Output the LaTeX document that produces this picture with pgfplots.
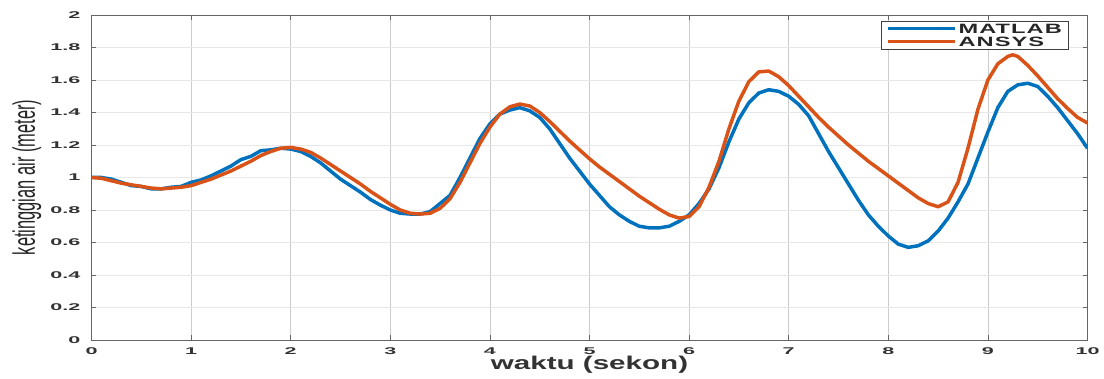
\documentclass[border=0pt]{standalone}
\usepackage{fontspec}
\setmainfont{Liberation Sans}
\newfontfamily\tickfont[FakeStretch=2.2]{Liberation Sans Bold}
\newfontfamily\labfont[FakeStretch=1.6]{Liberation Sans Bold}
\newfontfamily\legfont[FakeStretch=1.75, LetterSpace=8]{Liberation Sans Bold}
\newfontfamily\ylabfont[FakeStretch=0.53]{Liberation Sans}
\usepackage{pgfplots}
\pgfplotsset{compat=1.18}
\definecolor{mblue}{rgb}{0,0.447,0.741}
\definecolor{morange}{rgb}{0.85,0.325,0.098}
\begin{document}
\begin{tikzpicture}
\begin{axis}[
  scale only axis, width=996pt, height=325pt,
  xmin=0, xmax=10, ymin=0, ymax=2,
  xtick={0,1,...,10}, ytick={0,0.2,...,2.01},
  /pgf/number format/assume math mode=true,
  tick align=inside, major tick length=5pt,
  tick style={black!60, line width=0.8pt},
  axis line style={black!60, line width=0.8pt},
  grid=major,
  x grid style={black!20, line width=0.7pt},
  y grid style={black!9, line width=0.7pt},
  ticklabel style={font=\tickfont\fontsize{9.8}{10}\selectfont, text=black!80},
  xticklabel style={anchor=center, inner sep=0pt, yshift=-11pt},
  yticklabel style={anchor=east, inner sep=0pt, xshift=-11pt},
  xlabel={waktu (sekon)},
  xlabel style={font=\labfont\fontsize{18.5}{18.5}\selectfont, text=black!80, at={(axis description cs:0.5,-0.077)}, anchor=center},
  ylabel={ketinggian air (meter)},
  ylabel style={font=\ylabfont\fontsize{31}{31}\selectfont, text=black!85, at={(axis description cs:-0.0648,0.5)}, anchor=center},
  legend style={at={(axis description cs:0.9817,0.982)}, anchor=north east,
     draw=black!75, line width=0.8pt, inner xsep=5pt, inner ysep=1pt,
     font=\legfont\fontsize{13.5}{13.5}\selectfont, text=black!85,
     nodes={inner xsep=2pt, inner ysep=1pt, text height=10pt, text depth=1pt}, row sep=0pt},
  legend cell align=left,
  legend image code/.code={\draw[#1, line width=3pt] (0pt,0pt) -- (67pt,0pt);},
]
\coordinate (O) at (rel axis cs:0,0);
\addplot[mblue, line width=3.5pt, line join=round] coordinates {
(0,1.00) (0.1,1.00) (0.2,0.99) (0.3,0.97) (0.4,0.95) (0.5,0.945) (0.6,0.93) (0.7,0.93) (0.8,0.94) (0.9,0.945) (1.0,0.97) (1.1,0.985) (1.2,1.01) (1.3,1.04) (1.4,1.07) (1.5,1.11) (1.6,1.13) (1.7,1.165) (1.8,1.17) (1.9,1.18) (2.0,1.175) (2.1,1.16) (2.2,1.13) (2.3,1.09) (2.4,1.04) (2.5,0.99) (2.6,0.95) (2.7,0.91) (2.8,0.865) (2.9,0.83) (3.0,0.80) (3.1,0.78) (3.2,0.775) (3.3,0.775) (3.4,0.79) (3.5,0.84) (3.6,0.89) (3.7,1.00) (3.8,1.12) (3.9,1.24) (4.0,1.33) (4.1,1.39) (4.2,1.415) (4.3,1.43) (4.4,1.41) (4.5,1.37) (4.6,1.30) (4.7,1.21) (4.8,1.12) (4.9,1.04) (5.0,0.96) (5.1,0.89) (5.2,0.82) (5.3,0.77) (5.4,0.73) (5.5,0.70) (5.6,0.69) (5.7,0.69) (5.8,0.70) (5.9,0.73) (6.0,0.77) (6.1,0.84) (6.2,0.93) (6.3,1.06) (6.4,1.22) (6.5,1.36) (6.6,1.46) (6.7,1.52) (6.8,1.54) (6.9,1.53) (7.0,1.50) (7.1,1.45) (7.2,1.38) (7.3,1.27) (7.4,1.16) (7.5,1.06) (7.6,0.96) (7.7,0.86) (7.8,0.77) (7.9,0.70) (8.0,0.64) (8.1,0.59) (8.2,0.57) (8.3,0.58) (8.4,0.61) (8.5,0.67) (8.6,0.75) (8.7,0.85) (8.8,0.96) (8.9,1.12) (9.0,1.28) (9.1,1.43) (9.2,1.53) (9.3,1.57) (9.4,1.58) (9.5,1.56) (9.6,1.50) (9.7,1.43) (9.8,1.35) (9.9,1.27) (10.0,1.18)
};
\addlegendentry{MATLAB}
\addplot[morange, line width=3.5pt, line join=round] coordinates {
(0,1.00) (0.1,0.995) (0.2,0.98) (0.3,0.965) (0.4,0.955) (0.5,0.945) (0.6,0.935) (0.7,0.93) (0.8,0.935) (0.9,0.94) (1.0,0.95) (1.1,0.97) (1.2,0.99) (1.3,1.015) (1.4,1.04) (1.5,1.07) (1.6,1.10) (1.7,1.135) (1.8,1.16) (1.9,1.18) (2.0,1.185) (2.1,1.175) (2.2,1.155) (2.3,1.12) (2.4,1.08) (2.5,1.04) (2.6,1.00) (2.7,0.96) (2.8,0.915) (2.9,0.875) (3.0,0.835) (3.1,0.80) (3.2,0.78) (3.3,0.775) (3.4,0.78) (3.5,0.81) (3.6,0.87) (3.7,0.97) (3.8,1.09) (3.9,1.21) (4.0,1.31) (4.1,1.39) (4.2,1.435) (4.3,1.452) (4.4,1.44) (4.5,1.40) (4.6,1.345) (4.7,1.285) (4.8,1.225) (4.9,1.17) (5.0,1.115) (5.1,1.065) (5.2,1.02) (5.3,0.975) (5.4,0.93) (5.5,0.885) (5.6,0.845) (5.7,0.805) (5.8,0.77) (5.9,0.75) (6.0,0.76) (6.1,0.82) (6.2,0.94) (6.3,1.10) (6.4,1.30) (6.5,1.47) (6.6,1.59) (6.7,1.65) (6.8,1.655) (6.9,1.62) (7.0,1.565) (7.1,1.50) (7.2,1.435) (7.3,1.37) (7.4,1.31) (7.5,1.255) (7.6,1.20) (7.7,1.15) (7.8,1.10) (7.9,1.055) (8.0,1.01) (8.1,0.965) (8.2,0.92) (8.3,0.875) (8.4,0.84) (8.5,0.82) (8.6,0.85) (8.7,0.97) (8.8,1.18) (8.9,1.42) (9.0,1.60) (9.1,1.70) (9.2,1.745) (9.25,1.755) (9.3,1.745) (9.4,1.69) (9.5,1.625) (9.6,1.555) (9.7,1.485) (9.8,1.425) (9.9,1.37) (10.0,1.335)
};
\addlegendentry{ANSYS}
\end{axis}
\pgfresetboundingbox
\path (O) ++(-91.5pt,-39pt) rectangle ++(1104pt,379pt);
\end{tikzpicture}
\end{document}
